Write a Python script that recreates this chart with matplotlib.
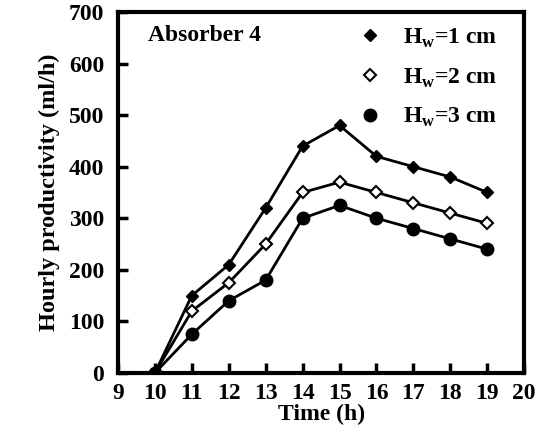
import numpy as np
import matplotlib.pyplot as plt
from matplotlib.lines import Line2D

plt.rcParams['font.family'] = 'Liberation Serif'
plt.rcParams['font.weight'] = 'bold'
plt.rcParams['mathtext.fontset'] = 'custom'
plt.rcParams['mathtext.rm'] = 'Liberation Serif:bold'
plt.rcParams['mathtext.bf'] = 'Liberation Serif:bold'

# hourly productivity for three water depths
time_h = [10, 11, 12, 13, 14, 15, 16, 17, 18, 19]
hw1 = [0, 150, 210, 320, 440, 480, 420, 400, 380, 350]
hw2 = [0, 120, 175, 250, 350, 370, 350, 330, 310, 290]
hw3 = [0, 75, 140, 180, 300, 325, 300, 280, 260, 240]
labels = [r'H$_\mathbf{w}$=1 cm', r'H$_\mathbf{w}$=2 cm', r'H$_\mathbf{w}$=3 cm']

fig = plt.figure(figsize=(5.41, 4.44), dpi=100)
ax = fig.add_axes([0.218, 0.16, 0.751, 0.813])

ax.plot(time_h, hw1, color='k', lw=2, marker='D', ms=6.5, mfc='k', mec='k')
ax.plot(time_h, hw2, color='k', lw=2, marker='D', ms=6.5, mfc='white', mec='k', mew=1.5)
ax.plot(time_h, hw3, color='k', lw=2, marker='o', ms=9, mfc='k', mec='k')

ax.set_xlim(9, 20)
ax.set_ylim(0, 700)
ax.set_xticks(range(9, 21))
ax.set_yticks(range(0, 701, 100))
ax.tick_params(direction='in', length=7, width=2.5, labelsize=17)
ax.tick_params(axis='x', top=False, pad=7)
ax.tick_params(axis='y', pad=10)
for s in ax.spines.values():
    s.set_linewidth(3)

ax.set_xlabel('Time (h)', fontsize=17, fontweight='bold', labelpad=0)
ax.set_ylabel('Hourly productivity (ml/h)', fontsize=17.5, fontweight='bold', labelpad=6)

ax.text(0.075, 0.965, 'Absorber 4', transform=ax.transAxes, fontsize=17,
        fontweight='bold', va='top')

handles = [Line2D([], [], ls='none', marker='D', ms=6.5, mfc='k', mec='k'),
           Line2D([], [], ls='none', marker='D', ms=6.5, mfc='white', mec='k', mew=1.5),
           Line2D([], [], ls='none', marker='o', ms=9, mfc='k', mec='k')]
ax.legend(handles, labels, loc='upper right', frameon=False, fontsize=17,
          handletextpad=0.4, labelspacing=0.7, borderaxespad=0.3,
          bbox_to_anchor=(0.975, 1.005))

fig.savefig('out.png', dpi=100)
